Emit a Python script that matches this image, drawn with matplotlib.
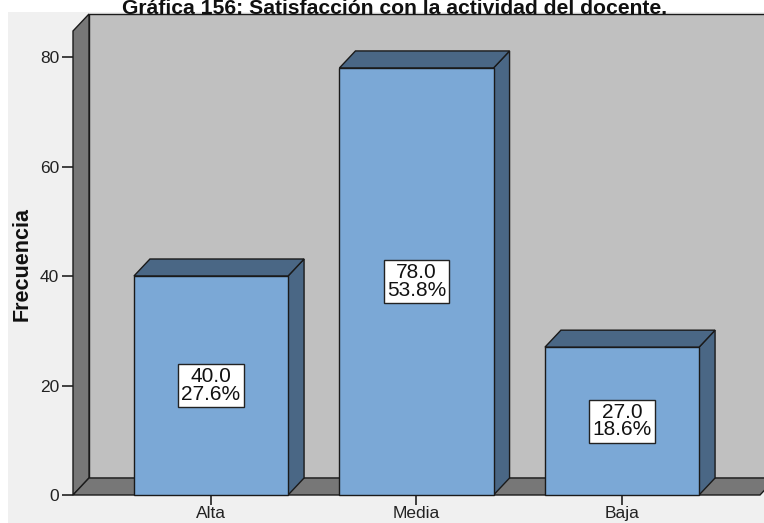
import matplotlib
matplotlib.use("Agg")
import matplotlib.pyplot as plt
from matplotlib.patches import Polygon, Rectangle

# datos de la gráfica
categorias = ["Alta", "Media", "Baja"]
frecuencias = [40, 78, 27]
yticks = [0, 20, 40, 60, 80]
titulo = "Gráfica 156: Satisfacción con la actividad del docente."

total = sum(frecuencias)
porcentajes = [100.0 * f / total for f in frecuencias]

plt.rcParams['font.family'] = ['Liberation Sans', 'DejaVu Sans']

W, H = 764, 523
fig = plt.figure(figsize=(W / 100, H / 100), dpi=100, facecolor="white")

# panel gris claro
ax = fig.add_axes([8 / W, 0, 756 / W, 511 / H])
ax.set_facecolor("#F0F0F0")

# escala: pixeles por unidad
px_y = 5.475
px_x = 205.5
ax.set_ylim(-28 / px_y, 483 / px_y)
ax.set_xlim((8 - 211) / px_x, (764 - 211) / px_x)

dx = 16 / px_x   # profundidad
dy = 17 / px_y
x_front = (73 - 211) / px_x
x_back = x_front + dx
x_right = (760 - 211) / px_x
top = 481 / px_y
ancho = 0.75

ec = dict(edgecolor="#1a1a1a", linewidth=1.0)

# pared del fondo
ax.add_patch(Rectangle((x_back, dy), 5, top - dy, facecolor="#C0C0C0", zorder=1, **ec))
# pared izquierda
ax.add_patch(Polygon([(x_front, 0), (x_back, dy), (x_back, top), (x_front, top - dy)],
                     closed=True, facecolor="#777777", zorder=2, **ec))
# piso
ax.add_patch(Polygon([(x_front, 0), (x_right, 0), (x_right + dx, dy), (x_back, dy)],
                     closed=True, facecolor="#777777", zorder=2, **ec))

# barras 3D
for i, (v, p) in enumerate(zip(frecuencias, porcentajes)):
    x0 = i - ancho / 2
    x1 = i + ancho / 2
    ax.add_patch(Polygon([(x1, 0), (x1 + dx, dy), (x1 + dx, v + dy), (x1, v)],
                         closed=True, facecolor="#4A6785", zorder=3, **ec))
    ax.add_patch(Polygon([(x0, v), (x1, v), (x1 + dx, v + dy), (x0 + dx, v + dy)],
                         closed=True, facecolor="#4A6785", zorder=3, **ec))
    ax.add_patch(Rectangle((x0, 0), ancho, v, facecolor="#7BA8D6", zorder=4, **ec))
    ax.text(i, v / 2, f"{v:.1f}\n{p:.1f}%", ha="center", va="center",
            multialignment="center", fontsize=15, linespacing=0.92, color="#111111",
            zorder=5,
            bbox=dict(boxstyle="square,pad=0.15", facecolor="white",
                      edgecolor="#222222", linewidth=1.0))

# ejes
for s in ["top", "right"]:
    ax.spines[s].set_visible(False)
ax.spines["left"].set_position(("data", x_front))
ax.spines["bottom"].set_position(("data", 0))
ax.spines["left"].set_color("none")
ax.spines["bottom"].set_color("none")
ax.set_yticks(yticks)
ax.set_xticks(range(len(categorias)))
ax.set_xticklabels(categorias)
ax.tick_params(axis="y", direction="out", length=8, width=1.2, pad=2,
               labelsize=12.5, colors="#222222")
ax.tick_params(axis="x", direction="out", length=7, width=1.2, pad=1,
               labelsize=12.5, colors="#222222")

fig.text(22 / W, 1 - 264 / H, "Frecuencia", rotation=90, ha="center", va="center",
         fontsize=15.5, fontweight="bold", color="#111111")
fig.text(394.5 / W, 1 - 13.5 / H, titulo, ha="center", va="baseline",
         fontsize=15.2, fontweight="bold", color="#111111", zorder=10)

fig.savefig("out.png", dpi=100, facecolor="white")
